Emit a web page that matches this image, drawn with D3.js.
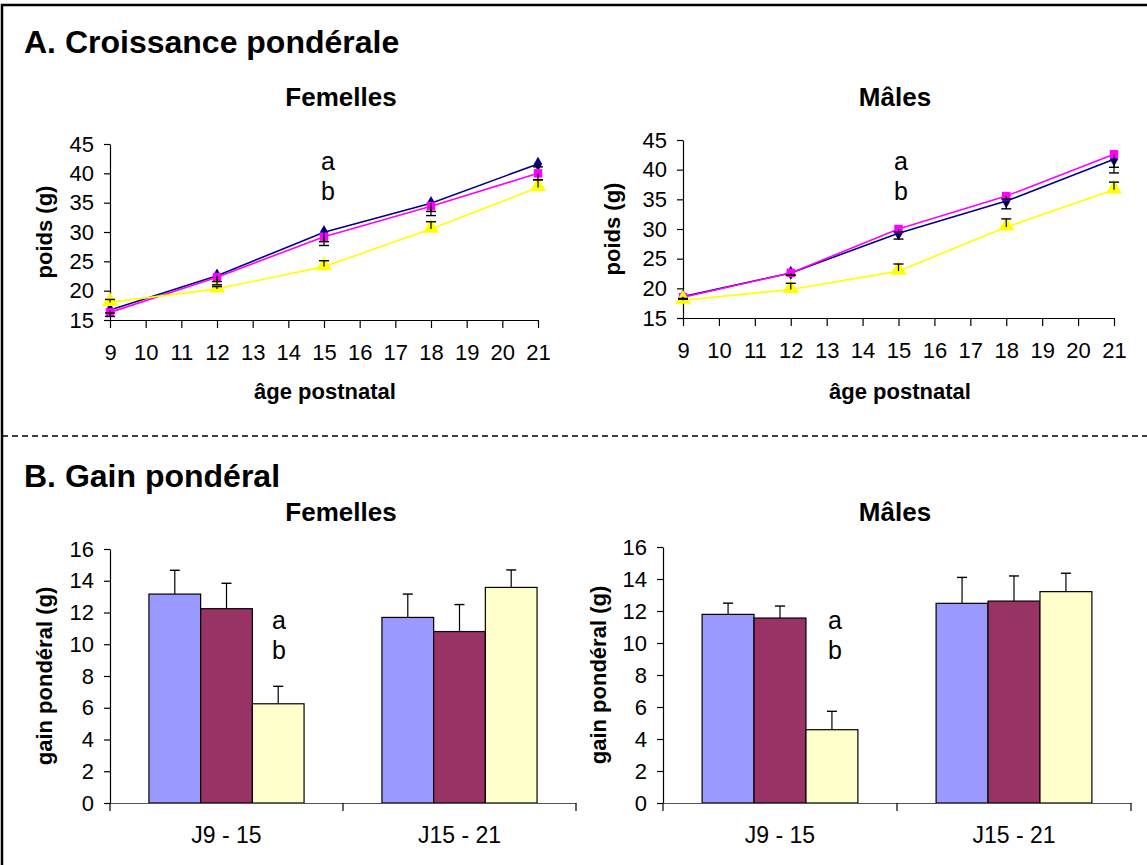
<!DOCTYPE html>
<html><head><meta charset="utf-8">
<script src="https://cdn.jsdelivr.net/npm/d3@7"></script>
<style>
html,body{margin:0;padding:0;background:#fff;}
svg text{font-family:"Liberation Sans",Arial,sans-serif;fill:#000;}
</style></head>
<body>
<svg id="c" width="1147" height="865"></svg>
<script>
// ---------- DATA ----------
const ages = [9, 12, 15, 18, 21];
const ageTicks = [9, 10, 11, 12, 13, 14, 15, 16, 17, 18, 19, 20, 21];
const weightTicks = [15, 20, 25, 30, 35, 40, 45];

const femWeightBlue   = [16.7, 22.55, 29.95, 34.9, 41.6];
const femWeightPink   = [16.3, 22.3, 29.2, 34.4, 40.0];
const femWeightYellow = [18.0, 20.3, 24.1, 30.5, 37.6];
const femErrBlue   = [0.5, 1.0, 1.6, 1.4, 0.5];
const femErrPink   = [0.7, 1.3, 1.5, 1.6, 1.1];
const femErrYellow = [0.5, 0.4, 1.0, 1.25, 1.3];

const maleWeightBlue   = [18.6, 22.6, 29.3, 34.7, 41.75];
const maleWeightPink   = [18.5, 22.6, 30.0, 35.55, 42.6];
const maleWeightYellow = [18.0, 19.8, 22.9, 30.35, 36.6];
const maleErrBlue   = [0.4, 0.4, 1.0, 1.3, 2.3];
const maleErrPink   = [0.3, 0.4, 0.5, 0.5, 2.2];
const maleErrYellow = [0.3, 1.05, 1.2, 1.35, 1.3];

const periods = ["J9 - 15", "J15 - 21"];
const gainTicks = [0, 2, 4, 6, 8, 10, 12, 14, 16];
const barSeries = ["s1", "s2", "s3"];
const femGain1 = [13.16, 11.69], femGain2 = [12.24, 10.8], femGain3 = [6.25, 13.58];
const femGainErr1 = [1.5, 1.47], femGainErr2 = [1.6, 1.7], femGainErr3 = [1.1, 1.1];
const maleGain1 = [11.79, 12.48], maleGain2 = [11.56, 12.62], maleGain3 = [4.58, 13.21];
const maleGainErr1 = [0.7, 1.62], maleGainErr2 = [0.75, 1.57], maleGainErr3 = [1.15, 1.15];

// ---------- STYLE ----------
const lineColors = ["#000080", "#FF00FF", "#FFFF00"];
const barColors = ["#9999FF", "#993366", "#FFFFCC"];
const TICK_FS = 22, CAT_FS = 23, AXIS_FS = 22, SUB_FS = 26, HEAD_FS = 32, AB_FS = 25;

const svg = d3.select("#c");

// Frame and divider
svg.append("path").attr("d", "M2,865 V5 H1147").attr("fill", "none").attr("stroke", "#000").attr("stroke-width", 2.5);
svg.append("line").attr("x1", 2).attr("x2", 1147).attr("y1", 436).attr("y2", 436)
  .attr("stroke", "#000").attr("stroke-width", 1.3).attr("stroke-dasharray", "6,4");

svg.append("text").attr("x", 24).attr("y", 53).attr("font-size", HEAD_FS).attr("font-weight", "bold").text("A. Croissance pondérale");
svg.append("text").attr("x", 24).attr("y", 487).attr("font-size", HEAD_FS).attr("font-weight", "bold").text("B. Gain pondéral");

function styleAxis(g, fs) {
  g.attr("font-size", fs).attr("font-family", "'Liberation Sans', Arial, sans-serif");
  g.selectAll("path.domain").attr("stroke", "#000").attr("stroke-width", 1.2);
  g.selectAll(".tick line").attr("stroke", "#000").attr("stroke-width", 1.2);
  g.selectAll(".tick text").attr("font-size", fs).attr("fill", "#000");
}

function lineChart(opt) {
  const x = d3.scaleLinear().domain([9, 21]).range([opt.x0, opt.x1]);
  const y = d3.scaleLinear().domain([15, 45]).range([opt.y0, opt.y1]);
  const g = svg.append("g");

  const ya = g.append("g").attr("transform", `translate(${opt.x0},0)`)
    .call(d3.axisLeft(y).tickValues(weightTicks).tickSize(6).tickSizeOuter(0).tickPadding(10));
  styleAxis(ya, TICK_FS);
  const xa = g.append("g").attr("transform", `translate(0,${opt.y0})`)
    .call(d3.axisBottom(x).tickValues(ageTicks).tickSize(8).tickSizeOuter(0).tickPadding(16));
  styleAxis(xa, TICK_FS);

  const series = [opt.blue, opt.pink, opt.yellow];
  const line = d3.line().x((d, i) => x(ages[i])).y(d => y(d));
  series.forEach((s, k) => {
    g.append("path").datum(s).attr("d", line).attr("fill", "none")
      .attr("stroke", lineColors[k]).attr("stroke-width", 1.6);
  });
  const sym = [d3.symbolDiamond, d3.symbolSquare, d3.symbolTriangle];
  const sz = [60, 72, 110];
  series.forEach((s, k) => {
    g.selectAll(null).data(s).enter().append("path")
      .attr("d", d3.symbol().type(sym[k]).size(sz[k]))
      .attr("transform", (d, i) => `translate(${x(ages[i])},${y(d) - (k === 2 ? 1 : 0)})`)
      .attr("fill", lineColors[k]);
  });
  // error bars: blue/pink downward, yellow upward
  const errs = [[opt.blue, opt.eBlue, -1], [opt.pink, opt.ePink, -1], [opt.yellow, opt.eYellow, 1]];
  errs.forEach(([vals, e, dir]) => {
    vals.forEach((v, i) => {
      const cx = x(ages[i]);
      const yEnd = y(v + dir * e[i]);
      g.append("line").attr("x1", cx).attr("x2", cx).attr("y1", y(v)).attr("y2", yEnd).attr("stroke", "#000").attr("stroke-width", 1.2);
      g.append("line").attr("x1", cx - 5).attr("x2", cx + 5).attr("y1", yEnd).attr("y2", yEnd).attr("stroke", "#000").attr("stroke-width", 1.4);
    });
  });

  svg.append("text").attr("x", opt.titleX).attr("y", 106).attr("text-anchor", "middle")
    .attr("font-size", SUB_FS).attr("font-weight", "bold").text(opt.title);
  svg.append("text").attr("x", opt.xLabX).attr("y", 399).attr("text-anchor", "middle")
    .attr("font-size", AXIS_FS).attr("font-weight", "bold").text("âge postnatal");
  svg.append("text").attr("transform", `translate(${opt.yLabX},${(opt.y0 + opt.y1) / 2}) rotate(-90)`)
    .attr("text-anchor", "middle").attr("font-size", AXIS_FS).attr("font-weight", "bold").text("poids (g)");
  svg.append("text").attr("x", opt.abX).attr("y", 170).attr("text-anchor", "middle").attr("font-size", AB_FS).text("a");
  svg.append("text").attr("x", opt.abX).attr("y", 200).attr("text-anchor", "middle").attr("font-size", AB_FS).text("b");
}

lineChart({x0: 110, x1: 538, y0: 320, y1: 144, blue: femWeightBlue, pink: femWeightPink, yellow: femWeightYellow,
  eBlue: femErrBlue, ePink: femErrPink, eYellow: femErrYellow, title: "Femelles", titleX: 341, xLabX: 325, yLabX: 52, abX: 328});
lineChart({x0: 683, x1: 1114, y0: 318, y1: 140, blue: maleWeightBlue, pink: maleWeightPink, yellow: maleWeightYellow,
  eBlue: maleErrBlue, ePink: maleErrPink, eYellow: maleErrYellow, title: "Mâles", titleX: 895, xLabX: 900, yLabX: 620, abX: 901});

function barChart(opt) {
  const x0 = d3.scaleBand().domain(periods).range([opt.x0, opt.x1]).padding(0);
  const x1 = d3.scaleBand().domain(barSeries).range([0, x0.bandwidth()]).paddingInner(0).paddingOuter(0.753);
  const y = d3.scaleLinear().domain([0, 16]).range([opt.y0, opt.y1]);
  const g = svg.append("g");

  const vals = [opt.v1, opt.v2, opt.v3];
  const errs = [opt.e1, opt.e2, opt.e3];
  barSeries.forEach((s, k) => {
    periods.forEach((p, i) => {
      const bx = x0(p) + x1(s);
      const cx = bx + x1.bandwidth() / 2;
      const top = y(vals[k][i]);
      const et = y(vals[k][i] + errs[k][i]);
      g.append("line").attr("x1", cx).attr("x2", cx).attr("y1", top).attr("y2", et).attr("stroke", "#000").attr("stroke-width", 1.2);
      g.append("line").attr("x1", cx - 5).attr("x2", cx + 5).attr("y1", et).attr("y2", et).attr("stroke", "#000").attr("stroke-width", 1.4);
      g.append("rect").attr("x", bx).attr("y", top).attr("width", x1.bandwidth()).attr("height", y(0) - top)
        .attr("fill", barColors[k]).attr("stroke", "#000").attr("stroke-width", 1.2);
    });
  });

  const ya = g.append("g").attr("transform", `translate(${opt.x0},0)`)
    .call(d3.axisLeft(y).tickValues(gainTicks).tickSize(6).tickSizeOuter(0).tickPadding(10));
  styleAxis(ya, TICK_FS);
  const xa = g.append("g").attr("transform", `translate(0,${opt.y0})`)
    .call(d3.axisBottom(x0).tickSize(0).tickSizeOuter(0).tickPadding(24));
  styleAxis(xa, CAT_FS);
  xa.selectAll("path.domain").attr("stroke", "#555");
  const edges = [opt.x0, x0(periods[1]), opt.x1];
  g.selectAll(null).data(edges).enter().append("line")
    .attr("x1", d => d).attr("x2", d => d).attr("y1", opt.y0).attr("y2", opt.y0 + 8)
    .attr("stroke", "#000").attr("stroke-width", 1.2);

  svg.append("text").attr("x", opt.titleX).attr("y", 521).attr("text-anchor", "middle")
    .attr("font-size", SUB_FS).attr("font-weight", "bold").text(opt.title);
  svg.append("text").attr("transform", `translate(${opt.yLabX},${(opt.y0 + opt.y1) / 2}) rotate(-90)`)
    .attr("text-anchor", "middle").attr("font-size", AXIS_FS).attr("font-weight", "bold").text("gain pondéral (g)");
  svg.append("text").attr("x", opt.abX).attr("y", 629).attr("text-anchor", "middle").attr("font-size", AB_FS).text("a");
  svg.append("text").attr("x", opt.abX).attr("y", 659).attr("text-anchor", "middle").attr("font-size", AB_FS).text("b");
}

barChart({x0: 110, x1: 576, y0: 803, y1: 549, v1: femGain1, v2: femGain2, v3: femGain3,
  e1: femGainErr1, e2: femGainErr2, e3: femGainErr3, title: "Femelles", titleX: 341, yLabX: 52, abX: 279});
barChart({x0: 663, x1: 1131, y0: 803, y1: 547, v1: maleGain1, v2: maleGain2, v3: maleGain3,
  e1: maleGainErr1, e2: maleGainErr2, e3: maleGainErr3, title: "Mâles", titleX: 895, yLabX: 606, abX: 835});
</script>
</body></html>
